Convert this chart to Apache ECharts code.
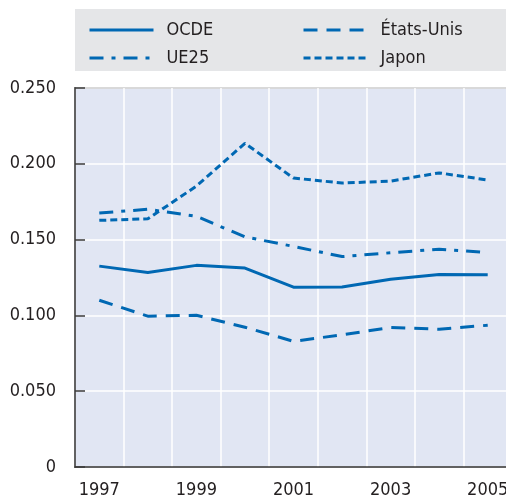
<!DOCTYPE html>
<html>
<head>
<meta charset="utf-8">
<script src="https://cdn.jsdelivr.net/npm/echarts@6/dist/echarts.min.js"></script>
<style>
  html, body { margin: 0; padding: 0; background: #fff; }
  #chart { width: 506px; height: 499px; }
</style>
</head>
<body>
<div id="chart"></div>
<script>
let years = ['1997', '1998', '1999', '2000', '2001', '2002', '2003', '2004', '2005']
let ocde = [0.1325, 0.1283, 0.133, 0.1312, 0.1186, 0.1188, 0.1238, 0.127, 0.1268]
let etatsUnis = [0.110, 0.0995, 0.1001, 0.0922, 0.0829, 0.0872, 0.0920, 0.0909, 0.0935]
let ue25 = [0.1675, 0.170, 0.1654, 0.1518, 0.1455, 0.1388, 0.1413, 0.1437, 0.1415]
let japon = [0.1627, 0.1637, 0.1853, 0.2135, 0.1906, 0.1873, 0.1886, 0.194, 0.1893]

const font = "'Liberation Sans Narrow', 'DejaVu Sans Condensed', sans-serif"
const blue = '#0068b3'

function line(name, data, dash) {
  return {
    name,
    type: 'line',
    data,
    symbol: 'none',
    lineStyle: {color: blue, width: 3, type: dash},
    itemStyle: {color: blue}
  }
}

let legendCommon = {
  orient: 'vertical',
  top: 21, padding: 0,
  itemWidth: 64, itemHeight: 14, itemGap: 10,
  itemStyle: {opacity: 0},
  lineStyle: {width: 3},
  textStyle: {fontFamily: font, fontSize: 18, color: '#231f20', padding: [0, 0, 0, 8]}
}

let myChart = echarts.init(document.getElementById('chart'))
let option = {
  animation: false,
  graphic: [{
    type: 'rect',
    shape: {x: 75, y: 9, width: 440, height: 62},
    style: {fill: '#e5e6e8'},
    z: -1
  }],
  legend: [
    Object.assign({data: ['OCDE', 'UE25'], left: 88}, legendCommon),
    Object.assign({data: ['États-Unis', 'Japon'], left: 302}, legendCommon)
  ],
  grid: {
    left: 75, top: 88, width: 437, height: 379,
    outerBoundsMode: 'none',
    show: true,
    backgroundColor: '#e1e6f3',
    borderColor: '#3a3a3a',
    borderWidth: 1.5
  },
  xAxis: {
    type: 'category',
    data: years,
    boundaryGap: true,
    axisLine: {lineStyle: {color: '#3a3a3a', width: 1.5}},
    axisTick: {inside: true, length: 10, interval: 0, lineStyle: {color: '#3a3a3a', width: 1.5}},
    splitLine: {show: true, interval: 0, lineStyle: {color: '#ffffff', width: 1.5}},
    axisLabel: {interval: 1, margin: 14, fontFamily: font, fontSize: 18, color: '#231f20'}
  },
  yAxis: {
    type: 'value',
    min: 0, max: 0.25, interval: 0.05,
    axisLine: {show: true, lineStyle: {color: '#3a3a3a', width: 1.5}},
    axisTick: {show: true, inside: true, length: 10, lineStyle: {color: '#3a3a3a', width: 1.5}},
    splitLine: {lineStyle: {color: '#ffffff', width: 1.5}},
    axisLabel: {
      margin: 19, fontFamily: font, fontSize: 18, color: '#231f20',
      formatter: v => v === 0 ? '0' : v.toFixed(3)
    }
  },
  series: [
    line('OCDE', ocde, 'solid'),
    line('États-Unis', etatsUnis, [14, 9]),
    line('UE25', ue25, [14, 8, 4, 8]),
    line('Japon', japon, [7, 4])
  ]
}
myChart.setOption(option)
</script>
</body>
</html>
